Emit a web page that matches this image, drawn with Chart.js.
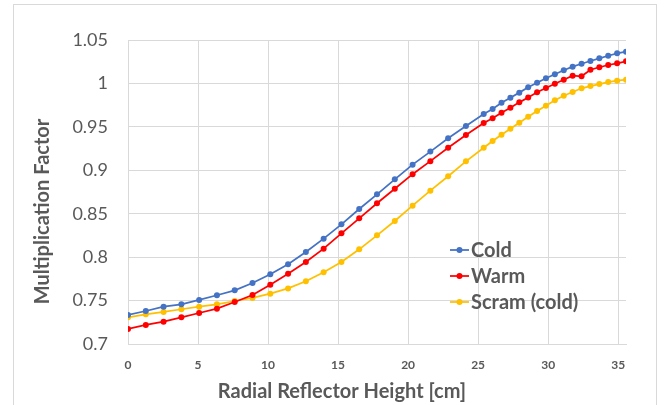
<!DOCTYPE html>
<html>
<head>
<meta charset="utf-8">
<script src="https://cdn.jsdelivr.net/npm/chart.js@4"></script>
<style>
  body { margin: 0; background: #fff; }
</style>
</head>
<body>
<canvas id="kChart" width="666" height="405"></canvas>
<script>
// reflector height [cm]
const heights = [0, 1.27, 2.54, 3.81, 5.08, 6.35, 7.62, 8.89, 10.16, 11.43, 12.7, 13.97, 15.24, 16.51,
  17.78, 19.05, 20.32, 21.59, 22.86, 24.13, 25.4, 26.035, 26.67, 27.305, 27.94, 28.575, 29.21,
  29.845, 30.48, 31.115, 31.75, 32.385, 33.02, 33.655, 34.29, 34.925, 35.56];

const coldK = [0.7334, 0.738, 0.743, 0.7457, 0.7507, 0.7561, 0.7618, 0.7702, 0.7803, 0.7918, 0.8059,
  0.8213, 0.8378, 0.8554, 0.8723, 0.8896, 0.9065, 0.9215, 0.9368, 0.951, 0.9648, 0.9706, 0.9778,
  0.9836, 0.9894, 0.9955, 1.0008, 1.0059, 1.0105, 1.0151, 1.0193, 1.0227, 1.0258, 1.0289, 1.0319,
  1.0347, 1.0365];

const warmK = [0.7173, 0.7219, 0.7257, 0.7307, 0.7357, 0.7407, 0.7484, 0.7564, 0.7683, 0.7808, 0.7944,
  0.8098, 0.8274, 0.8447, 0.862, 0.8788, 0.8955, 0.9105, 0.926, 0.9406, 0.9544, 0.9598, 0.9663,
  0.9721, 0.9782, 0.9838, 0.9898, 0.9947, 0.9997, 1.0043, 1.0089, 1.0082, 1.0158, 1.0186, 1.0212,
  1.0232, 1.0255];

const scramK = [0.7307, 0.7342, 0.7369, 0.74, 0.743, 0.7457, 0.7495, 0.753, 0.7579, 0.764, 0.7722,
  0.7825, 0.7944, 0.809, 0.8251, 0.8416, 0.8593, 0.8765, 0.8931, 0.9103, 0.926, 0.9337, 0.941,
  0.9478, 0.9548, 0.9617, 0.9683, 0.9744, 0.9806, 0.9859, 0.9901, 0.9944, 0.997, 0.9993, 1.0016,
  1.0031, 1.0043];

const seriesNames = ['Cold', 'Warm', 'Scram (cold)'];
const xTicks = [0, 5, 10, 15, 20, 25, 30, 35];
const yTicks = [0.7, 0.75, 0.8, 0.85, 0.9, 0.95, 1, 1.05];
const xTitle = 'Radial Reflector Height [cm]';
const yTitle = 'Multiplication Factor';

const colors = ['#4472C4', '#FF0000', '#FFC000'];
const textColor = '#595959';
const fontName = 'Lato';

function toPoints(ys) {
    return heights.map((h, i) => ({ x: h, y: ys[i] }));
}

// frame, legend and axis titles
const extras = {
    id: 'extras',
    beforeDraw(chart) {
        const c = chart.ctx;
        c.save();
        c.strokeStyle = '#d9d9d9';
        c.lineWidth = 1;
        c.strokeRect(13.5, 4.5, 643, 430);
        c.restore();
    },
    afterDraw(chart) {
        const c = chart.ctx;
        c.save();
        chart.data.datasets.forEach((ds, i) => {
            const y = 250 + i * 26;
            c.strokeStyle = ds.borderColor;
            c.lineWidth = 1.75;
            c.beginPath();
            c.moveTo(450, y);
            c.lineTo(469, y);
            c.stroke();
            c.fillStyle = ds.borderColor;
            c.beginPath();
            c.arc(459.5, y, 3, 0, Math.PI * 2);
            c.fill();
            c.fillStyle = textColor;
            c.font = 'bold 20px ' + fontName;
            c.textAlign = 'left';
            c.textBaseline = 'alphabetic';
            c.fillText(ds.label, 471, y + 7);
        });

        c.fillStyle = textColor;
        c.font = 'bold 20px ' + fontName;
        c.textAlign = 'center';
        c.textBaseline = 'alphabetic';
        c.fillText(xTitle, 342, 398);

        c.translate(48.5, 211.5);
        c.rotate(-Math.PI / 2);
        c.fillText(yTitle, 0, 0);
        c.restore();
    }
};

const ctx = document.getElementById('kChart').getContext('2d');
new Chart(ctx, {
    type: 'scatter',
    data: {
        datasets: [coldK, warmK, scramK].map((ys, i) => ({
            label: seriesNames[i],
            data: toPoints(ys),
            showLine: true,
            borderColor: colors[i],
            backgroundColor: colors[i],
            borderWidth: 1.75,
            pointRadius: 3,
            pointBorderWidth: 0,
            pointHoverRadius: 3
        }))
    },
    options: {
        responsive: false,
        animation: false,
        layout: { padding: { top: 40, right: 40, left: 0, bottom: 0 } },
        plugins: {
            legend: { display: false },
            tooltip: { enabled: false }
        },
        scales: {
            x: {
                type: 'linear',
                min: 0,
                max: 35.56,
                afterBuildTicks: (scale) => { scale.ticks = xTicks.map(v => ({ value: v })); },
                afterFit: (scale) => { scale.height = 61; },
                grid: { color: '#d9d9d9', drawTicks: false },
                border: { color: '#d9d9d9' },
                ticks: {
                    padding: 14,
                    color: textColor,
                    font: { family: fontName, size: 12, weight: 'bold' },
                    callback: (v) => String(v)
                }
            },
            y: {
                min: 0.7,
                max: 1.05,
                afterBuildTicks: (scale) => { scale.ticks = yTicks.map(v => ({ value: v })); },
                afterFit: (scale) => { scale.width = 128; },
                grid: { color: '#d9d9d9', drawTicks: false },
                border: { color: '#d9d9d9' },
                ticks: {
                    padding: 20,
                    color: textColor,
                    font: { family: fontName, size: 18 },
                    callback: (v) => String(+v.toFixed(2))
                }
            }
        }
    },
    plugins: [extras]
});
</script>
</body>
</html>
